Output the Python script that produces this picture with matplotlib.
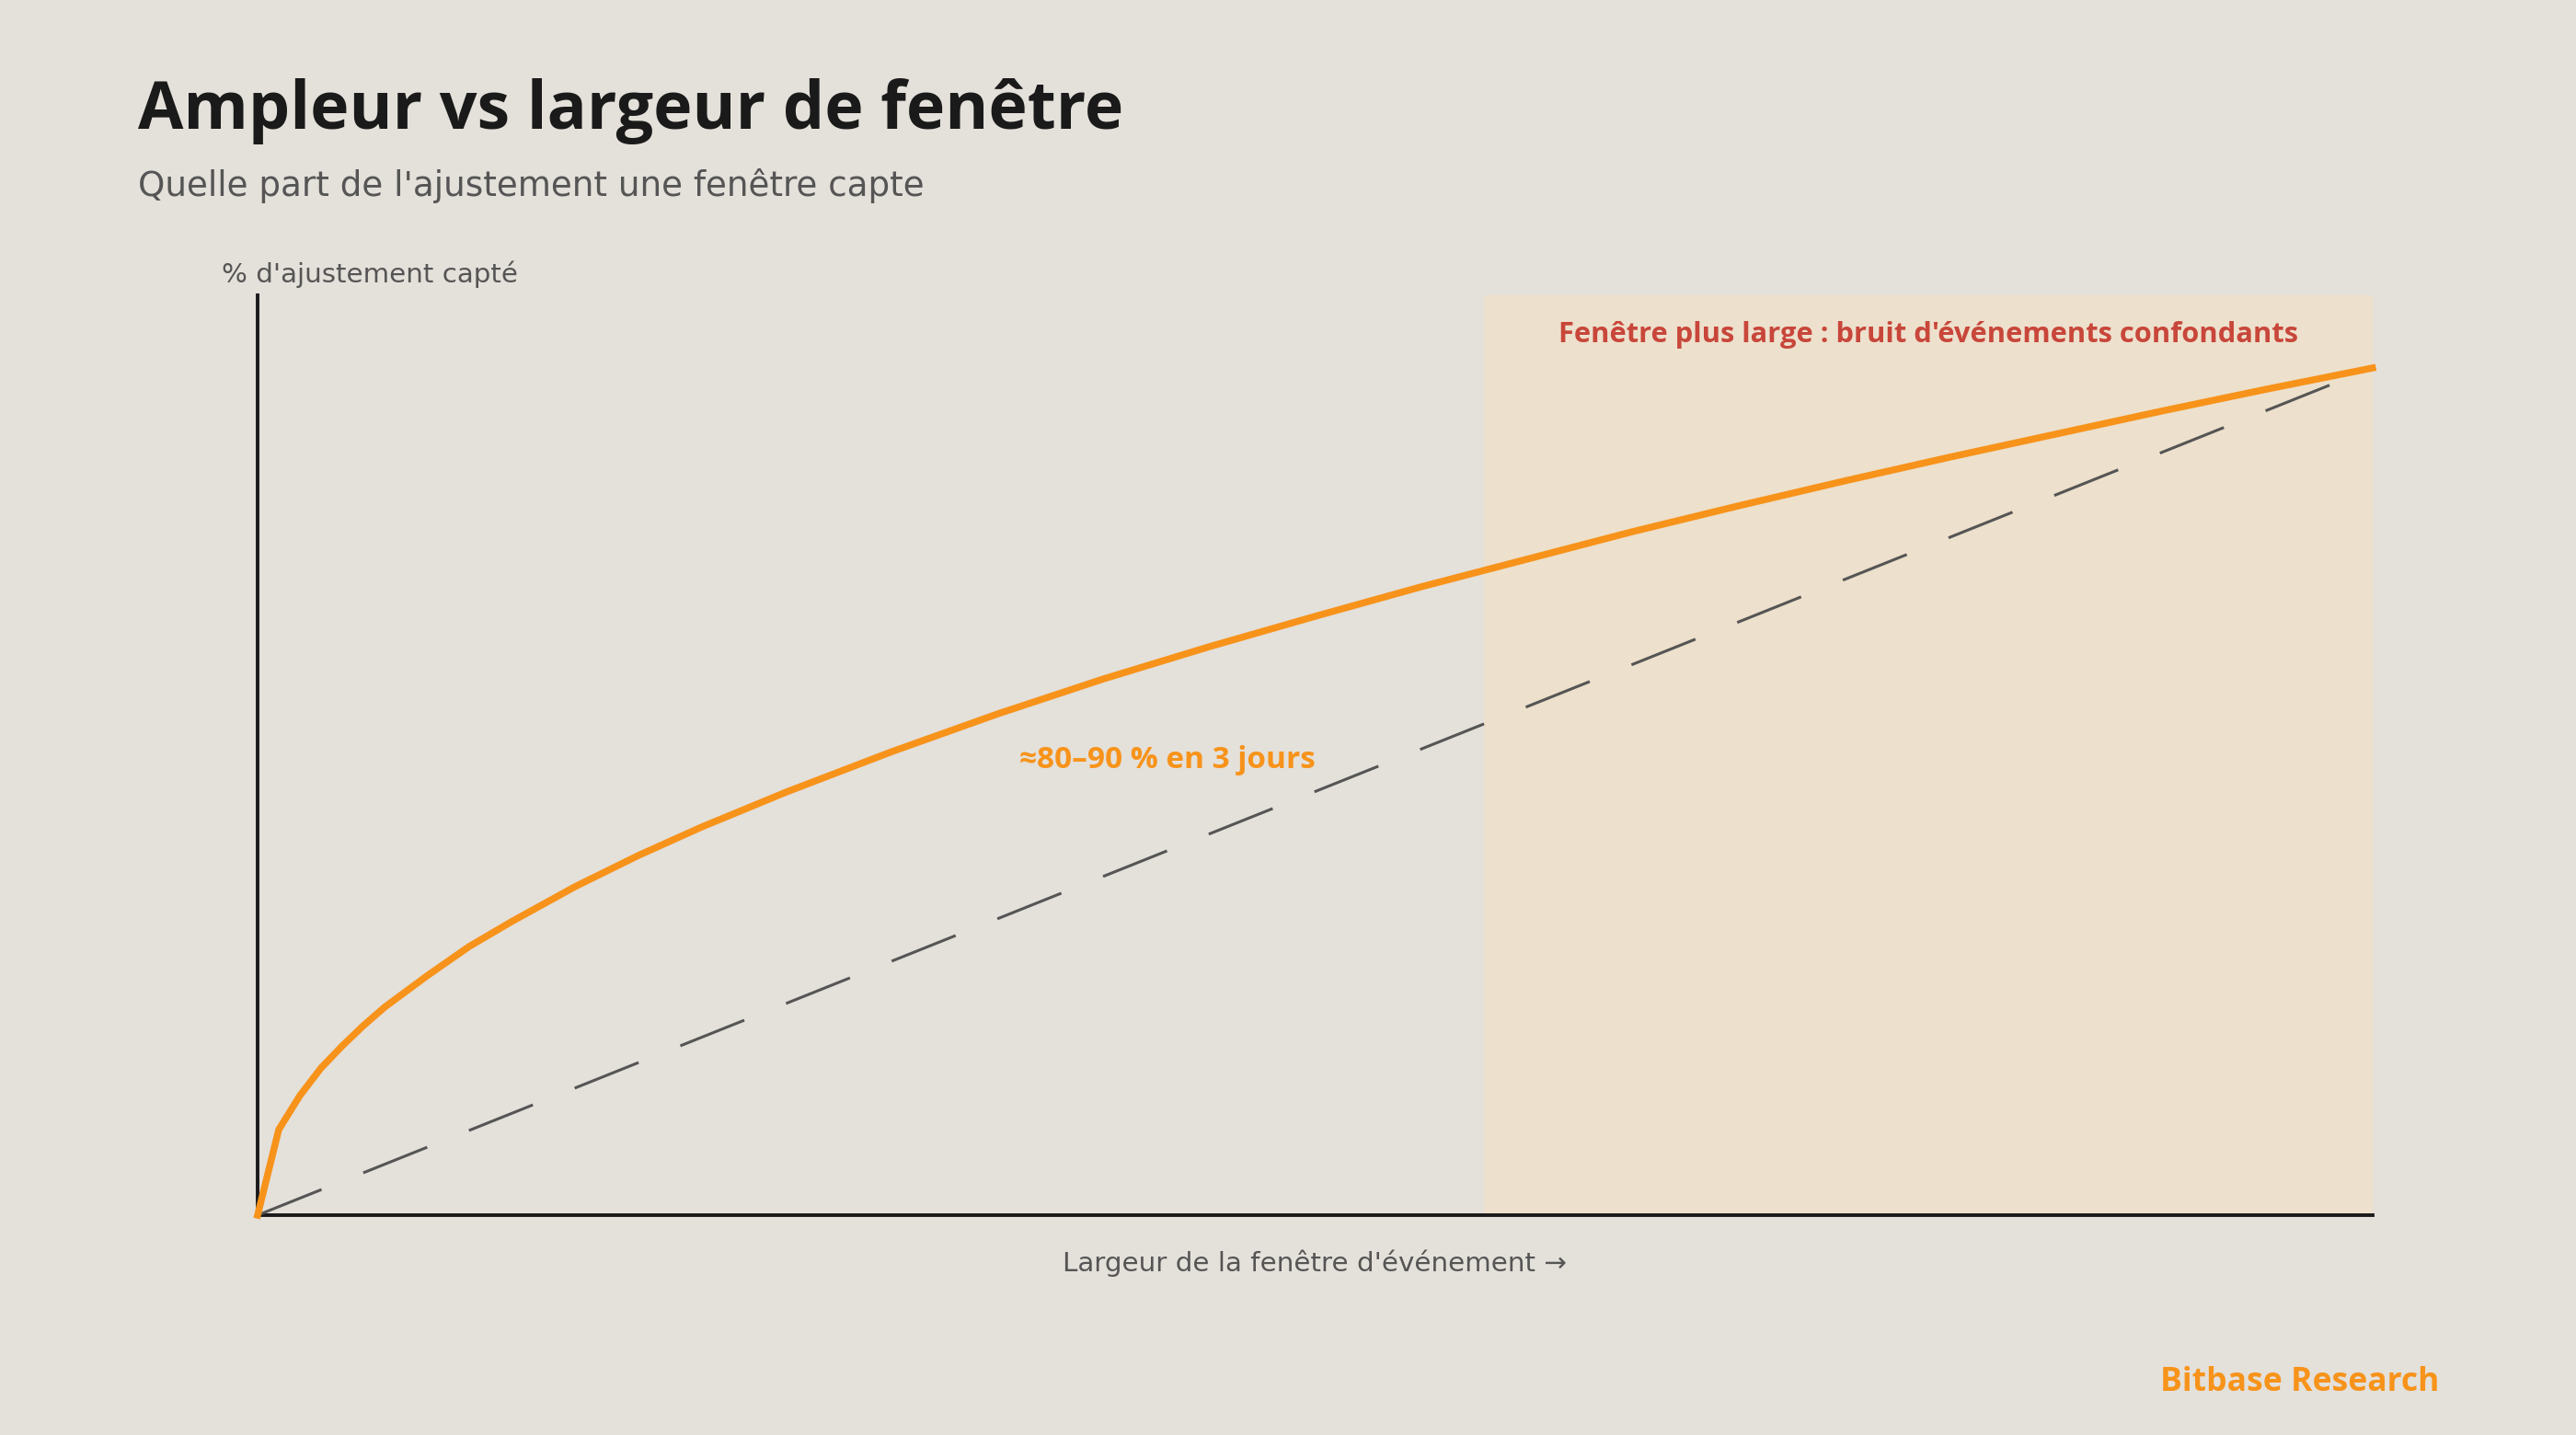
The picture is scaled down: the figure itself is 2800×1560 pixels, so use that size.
import matplotlib.pyplot as plt

# window width (arbitrary units, 0-100) vs % of adjustment captured
window = [0, 1, 2, 3, 4, 5, 6, 8, 10, 12, 15, 18, 21, 25, 30, 35, 40, 45,
          50, 55, 60, 65, 70, 75, 80, 85, 90, 95, 100]
captured = [0, 9.3, 13.0, 16.0, 18.4, 20.6, 22.6, 26.0, 29.2, 31.9, 35.7,
            39.1, 42.2, 46.0, 50.4, 54.5, 58.3, 61.8, 65.1, 68.3, 71.3, 74.3,
            77.1, 79.8, 82.4, 84.9, 87.4, 89.8, 92.1]

# straight reference line
linear_x = [0, 100]
linear_y = [0, 92.1]

# noisy zone (wider windows)
noise_start = 58
noise_end = 100

BG = '#E4E0DA'
ORANGE = '#F7931A'
RED = '#C8463A'
DARK = '#1A1A1A'
GREY = '#555555'

plt.rcParams['font.family'] = ['Open Sans', 'DejaVu Sans']
REGULAR = ['DejaVu Sans']

fig = plt.figure(figsize=(14, 7.8), dpi=200, facecolor=BG)
ax = fig.add_axes([0.1, 0.1532, 0.821, 0.641])
ax.set_facecolor(BG)

ax.axvspan(noise_start, noise_end, color='#EDE0CC', lw=0, zorder=0)

ax.plot(linear_x, linear_y, color=GREY, lw=1.1, dashes=(24.5, 16),
        zorder=3, clip_on=False)
ax.plot(window, captured, color=ORANGE, lw=2.7, zorder=4, clip_on=False)

ax.set_xlim(0, 100)
ax.set_ylim(0, 100)
ax.set_xticks([])
ax.set_yticks([])
for s in ['top', 'right']:
    ax.spines[s].set_visible(False)
for s in ['left', 'bottom']:
    ax.spines[s].set_color(DARK)
    ax.spines[s].set_linewidth(1.4)

ax.text(43, 48.6, '≈80–90 % en 3 jours', color=ORANGE, fontsize=12,
        fontweight='bold', ha='center', va='baseline')

fig.text(0.0536, 0.9103, 'Ampleur vs largeur de fenêtre', fontsize=25.8,
         fontweight='bold', color=DARK, ha='left', va='baseline')
fig.text(0.0536, 0.8635, "Quelle part de l'ajustement une fenêtre capte",
         fontsize=13.4, color=GREY, ha='left', va='baseline', family=REGULAR)
fig.text(0.0861, 0.8032, "% d'ajustement capté", fontsize=10.6, color=GREY,
         ha='left', va='baseline', family=REGULAR)
fig.text(0.7486, 0.7615, "Fenêtre plus large : bruit d'événements confondants",
         fontsize=11.1, fontweight='bold', color=RED, ha='center',
         va='baseline')
fig.text(0.5105, 0.1141, "Largeur de la fenêtre d'événement →", fontsize=10.6,
         color=GREY, ha='center', va='baseline', family=REGULAR)
fig.text(0.9468, 0.0308, 'Bitbase Research', fontsize=12.8, fontweight='bold',
         color=ORANGE, ha='right', va='baseline')

fig.savefig('out.png', dpi=200, facecolor=BG)
